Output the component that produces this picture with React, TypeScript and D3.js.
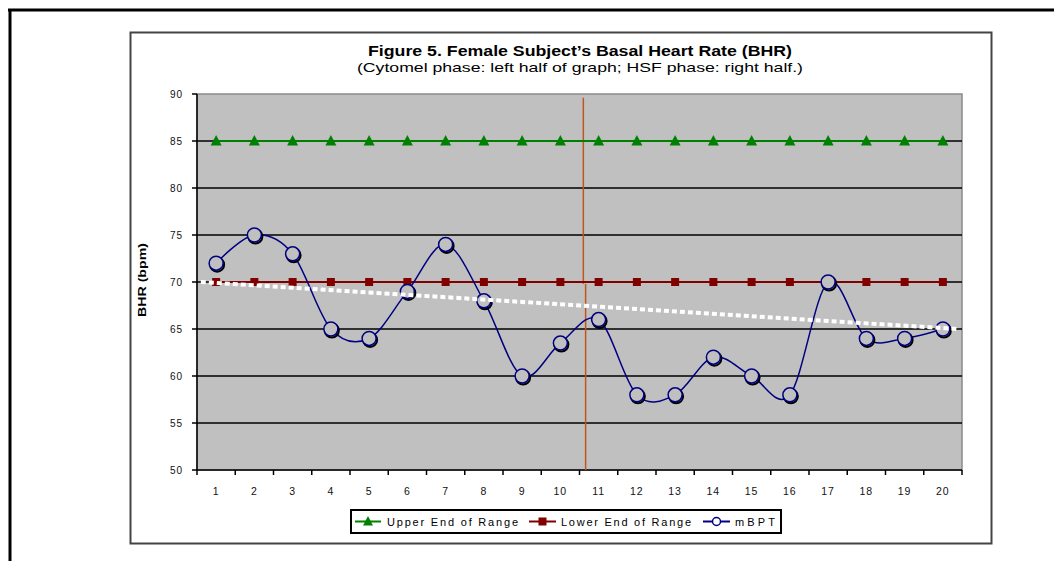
import React from "react";
import * as d3 from "d3";

const categories = d3.range(1, 21);
const upperRange = [85, 85, 85, 85, 85, 85, 85, 85, 85, 85, 85, 85, 85, 85, 85, 85, 85, 85, 85, 85];
const lowerRange = [70, 70, 70, 70, 70, 70, 70, 70, 70, 70, 70, 70, 70, 70, 70, 70, 70, 70, 70, 70];
const mBPT = [72, 75, 73, 65, 64, 69, 74, 68, 60, 63.5, 66, 58, 58, 62, 60, 58, 70, 64, 64, 65];
const trend: [number, number][] = [[0.6, 70.0], [20.4, 65.0]];
const yTicks = [50, 55, 60, 65, 70, 75, 80, 85, 90];
const gridValues = [55, 60, 65, 70, 75, 80, 85];
const separator = [
  { x: 10.6, y0: 89.6, y1: 69.8 },
  { x: 10.66, y0: 69.8, y1: 50 },
];
const title = "Figure 5. Female Subject\u2019s Basal Heart Rate (BHR)";
const subtitle = "(Cytomel phase: left half of graph; HSF phase: right half.)";
const legendItems = ["Upper End of Range", "Lower End of Range", "mBPT"];

const FONT = "'Liberation Sans', Arial, sans-serif";

export default function App() {
  const x = d3.scaleLinear().domain([0.5, 20.5]).range([197, 962]);
  const y = d3.scaleLinear().domain([50, 90]).range([470, 94]);

  const straight = d3.line<number>().x((_, i) => x(categories[i])).y((d) => y(d));
  const smooth = d3
    .line<number>()
    .x((_, i) => x(categories[i]))
    .y((d) => y(d))
    .curve(d3.curveCardinal.tension(0));
  const trendLine = d3.line<[number, number]>().x((d) => x(d[0])).y((d) => y(d[1]));

  const tri = (cx: number, cy: number, s: number) =>
    `M${cx},${cy - s * 0.6}L${cx + s * 0.55},${cy + s * 0.45}L${cx - s * 0.55},${cy + s * 0.45}Z`;

  const boundaries = d3.range(0.5, 21, 1);

  return (
    <svg width={1054} height={561} style={{ position: "absolute", left: 0, top: 0 }} fontFamily={FONT}>
      <rect x={0} y={0} width={1054} height={561} fill="#fff" />
      {/* outer frame */}
      <line x1={8} y1={10} x2={1054} y2={10} stroke="#000" strokeWidth={3} />
      <line x1={10} y1={9} x2={10} y2={561} stroke="#000" strokeWidth={3} />
      {/* chart box */}
      <rect x={130.5} y={32.5} width={861} height={511} fill="#fff" stroke="#444" strokeWidth={2} />

      {/* titles */}
      <text x={580} y={56} textAnchor="middle" fontSize={14} fontWeight="bold" fill="#000"
        textLength={424} lengthAdjust="spacingAndGlyphs">{title}</text>
      <text x={580} y={72} textAnchor="middle" fontSize={13} fill="#000"
        textLength={446} lengthAdjust="spacingAndGlyphs">{subtitle}</text>

      {/* plot area */}
      <rect x={x(0.5)} y={y(90)} width={x(20.5) - x(0.5)} height={y(50) - y(90)} fill="#C0C0C0" stroke="#8a8a8a" strokeWidth={1.5} />
      {gridValues.map((v) => (
        <line key={v} x1={x(0.5)} x2={x(20.5)} y1={y(v)} y2={y(v)} stroke="#000" strokeWidth={1.5} />
      ))}

      {/* axes */}
      <line x1={x(0.5)} x2={x(0.5)} y1={y(90)} y2={y(50)} stroke="#000" strokeWidth={1.5} />
      <line x1={x(0.5)} x2={x(20.5)} y1={y(50)} y2={y(50)} stroke="#000" strokeWidth={1.5} />
      {yTicks.map((v) => (
        <g key={v}>
          <line x1={x(0.5) - 5} x2={x(0.5)} y1={y(v)} y2={y(v)} stroke="#000" strokeWidth={1.5} />
          <text x={183} y={y(v) + 3.5} textAnchor="end" fontSize={10} letterSpacing={1} fill="#111">{v}</text>
        </g>
      ))}
      {boundaries.map((b) => (
        <line key={b} x1={x(b)} x2={x(b)} y1={y(50)} y2={y(50) + 5} stroke="#000" strokeWidth={1.5} />
      ))}
      {categories.map((c) => (
        <text key={c} x={x(c)} y={495} textAnchor="middle" fontSize={10.5} letterSpacing={1} fill="#111">{c}</text>
      ))}
      <text transform={`translate(146,280) rotate(-90)`} textAnchor="middle" fontSize={10} fontWeight="bold" fill="#000"
        textLength={74} lengthAdjust="spacingAndGlyphs">BHR (bpm)</text>

      {/* separator */}
      {separator.map((s, i) => (
        <line key={i} x1={x(s.x)} x2={x(s.x)} y1={y(s.y0)} y2={y(s.y1)} stroke="#C0561C" strokeWidth={1.5} />
      ))}

      {/* upper range */}
      <path d={straight(upperRange) || ""} fill="none" stroke="#008000" strokeWidth={2} />
      {upperRange.map((v, i) => (
        <path key={i} d={tri(x(categories[i]), y(v), 10)} fill="#008000" />
      ))}

      {/* lower range */}
      <path d={straight(lowerRange) || ""} fill="none" stroke="#800000" strokeWidth={2} />
      {lowerRange.map((v, i) => (
        <rect key={i} x={x(categories[i]) - 4} y={y(v) - 4} width={8} height={8} fill="#800000" />
      ))}

      {/* mBPT */}
      <path d={smooth(mBPT) || ""} fill="none" stroke="#000080" strokeWidth={1.5} />
      {mBPT.map((v, i) => (
        <g key={i}>
          <circle cx={x(categories[i]) + 1} cy={y(v) + 1.5} r={7} fill="none" stroke="#000" strokeWidth={2} />
          <circle cx={x(categories[i])} cy={y(v)} r={7} fill="#C0C0C0" stroke="#000080" strokeWidth={1.5} />
        </g>
      ))}

      {/* trend */}
      <path d={trendLine(trend) || ""} fill="none" stroke="#fff" strokeWidth={4} strokeDasharray="5,3" />

      {/* legend */}
      <rect x={351} y={510} width={430} height={23} fill="#fff" stroke="#000" strokeWidth={2} />
      <line x1={355} x2={381} y1={521.5} y2={521.5} stroke="#008000" strokeWidth={2} />
      <path d={tri(368, 521.5, 9)} fill="#008000" />
      <text x={387} y={525.5} fontSize={11} fill="#000" textLength={131} lengthAdjust="spacing">{legendItems[0]}</text>
      <line x1={529} x2={556} y1={521.5} y2={521.5} stroke="#800000" strokeWidth={2} />
      <rect x={538.5} y={517.5} width={8} height={8} fill="#800000" />
      <text x={561} y={525.5} fontSize={11} fill="#000" textLength={130} lengthAdjust="spacing">{legendItems[1]}</text>
      <line x1={703} x2={730} y1={521.5} y2={521.5} stroke="#000080" strokeWidth={2} />
      <circle cx={716.5} cy={521.5} r={4} fill="#fff" stroke="#000080" strokeWidth={1.5} />
      <text x={735} y={525.5} fontSize={11} fill="#000" textLength={40} lengthAdjust="spacing">{legendItems[2]}</text>
    </svg>
  );
}
